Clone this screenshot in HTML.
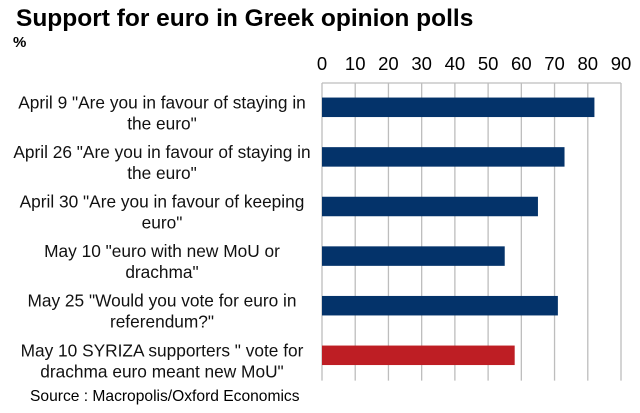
<!DOCTYPE html>
<html><head><meta charset="utf-8"><style>
body{margin:0;background:#fff;}
svg{display:block;font-family:"Liberation Sans",Arial,sans-serif;}
</style></head><body>
<svg id="chart" width="640" height="413" viewBox="0 0 640 413">
<rect width="640" height="413" fill="#fff"/>
<text x="16" y="26" font-size="24.5" font-weight="bold" fill="#000">Support for euro in Greek opinion polls</text>
<text x="13" y="47" font-size="15" font-weight="bold" fill="#000">%</text>
<text x="30" y="401" font-size="15.6" fill="#000">Source : Macropolis/Oxford Economics</text>
<g id="grid"></g><g id="ticks"></g><g id="bars"></g><g id="labels"></g>
</svg>
<script>
const categories=[
 ['April 9 "Are you in favour of staying in','the euro"'],
 ['April 26 "Are you in favour of staying in','the euro"'],
 ['April 30 "Are you in favour of keeping','euro"'],
 ['May 10 "euro with new MoU or','drachma"'],
 ['May 25 "Would you vote for euro in','referendum?"'],
 ['May 10 SYRIZA supporters " vote for','drachma euro meant new MoU"']
];
const values=[82,73,65,55,71,58];
const colors=['#04336a','#04336a','#04336a','#04336a','#04336a','#be1e24'];
const tickLabels=[0,10,20,30,40,50,60,70,80,90];
const NS='http://www.w3.org/2000/svg';
const x0=322,x1=621,yTop=83,rowH=49.6,barH=19.5;
const xs=v=>x0+(v-0)/90*(x1-x0);
function mk(tag,attrs,parent){const e=document.createElementNS(NS,tag);for(const k in attrs)e.setAttribute(k,attrs[k]);document.getElementById(parent).appendChild(e);return e;}
const yBot=yTop+rowH*categories.length;
const topBorder=mk('line',{x1:x0,x2:x1,y1:yTop,y2:yTop,stroke:'#bdbdbd','stroke-width':1.3},'grid');


tickLabels.forEach(t=>{
 const l=mk('line',{x1:xs(t),x2:xs(t),y1:yTop,y2:yBot,stroke:'#bdbdbd','stroke-width':1.3},'grid');
 
 
 const tx=mk('text',{x:xs(t),y:70,'font-size':18.5,'text-anchor':'middle',fill:'#000'},'ticks');
 tx.textContent=t;
 
 
});
categories.forEach((c,i)=>{
 const cy=yTop+rowH*i+rowH/2-0.5;
 const r=mk('rect',{x:x0,y:cy-barH/2,width:xs(values[i])-x0,height:barH,fill:colors[i]},'bars');
 
 
 c.forEach((line,j)=>{
  const t=mk('text',{x:162,y:cy+1+j*21,'font-size':17.3,'text-anchor':'middle',fill:'#111'},'labels');
  t.textContent=line;
  
  
 });
});
</script>
</body></html>
